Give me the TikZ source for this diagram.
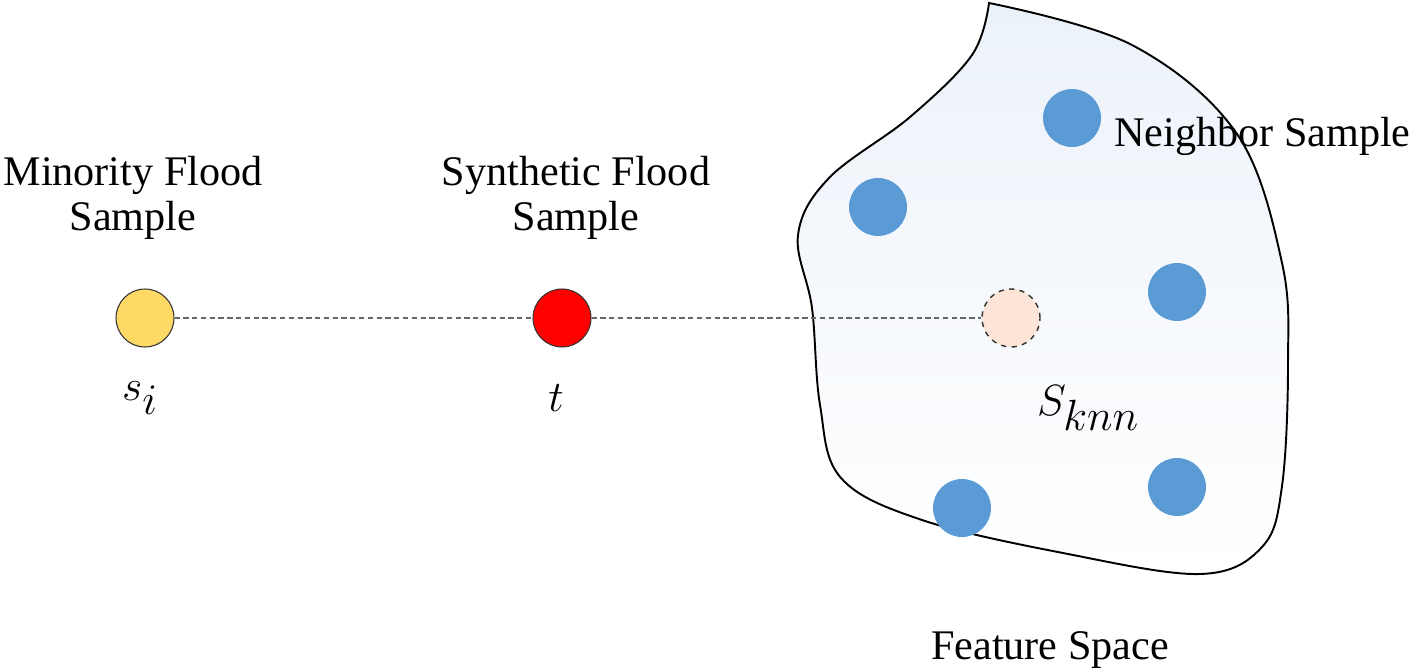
\documentclass[tikz,border=0pt]{standalone}
\usepackage{fontspec}
\setmainfont{Liberation Serif}
\usepackage{amsmath}

\begin{document}
\begin{tikzpicture}[x=0.02cm, y=-0.02cm,
	sample/.style={circle, draw=black!80, line width=0.6pt, minimum size=1.16cm, inner sep=0pt},
	neighbor/.style={circle, fill={rgb,255:red,91;green,155;blue,213}, minimum size=1.16cm, inner sep=0pt},
	link/.style={densely dashed, line width=0.8pt, black!60},
	lbl/.style={font=\fontsize{24}{26}\selectfont, align=center},
	sym/.style={font=\fontsize{36}{40}\selectfont}]
	\useasboundingbox (0,0) rectangle (1415,672);

	% feature space
	\draw[line width=1.1pt, top color={rgb,255:red,236;green,242;blue,250}, bottom color=white]
		plot[smooth, tension=0.6] coordinates {
		(989,3) (1132,45) (1237,134) (1282,263) (1288,364) (1282,486) (1262,547)
		(1200,574) (1063,553) (922,520) (841,478) (820,405) (812,308) (798,235)
		(829,178) (910,117) (972,55) (989,3)} -- cycle;

	% samples
	\node[sample, fill={rgb,255:red,255;green,217;blue,102}] (si) at (145,318) {};
	\node[sample, fill=red] (t) at (562,318) {};
	\node[sample, dashed, line width=0.8pt, fill={rgb,255:red,252;green,228;blue,214}] (sknn) at (1011,318) {};
	\draw[link] (si) -- (t);
	\draw[link] (t) -- (sknn);

	% neighbors
	\node[neighbor] (n1) at (1072,118) {};
	\node[neighbor] (n2) at (878,207) {};
	\node[neighbor] (n3) at (1177,292) {};
	\node[neighbor] (n4) at (962,508) {};
	\node[neighbor] (n5) at (1177,487) {};

	% labels
	\node[lbl] (lmin) at (133,198) {Minority Flood\\Sample};
	\node[lbl] (lsyn) at (576,198) {Synthetic Flood\\Sample};
	\node[lbl, anchor=west] (lnb) at (1108,136) {Neighbor Sample};
	\node[lbl] (lfs) at (1050,650) {Feature Space};
	\node[sym] (lsi) at (140,398) {$s_i$};
	\node[sym] (lt) at (556,398) {$t$};
	\node[sym, font=\fontsize{38}{42}\selectfont] (lsk) at (1088,408) {$S_{knn}$};
\end{tikzpicture}
\end{document}
